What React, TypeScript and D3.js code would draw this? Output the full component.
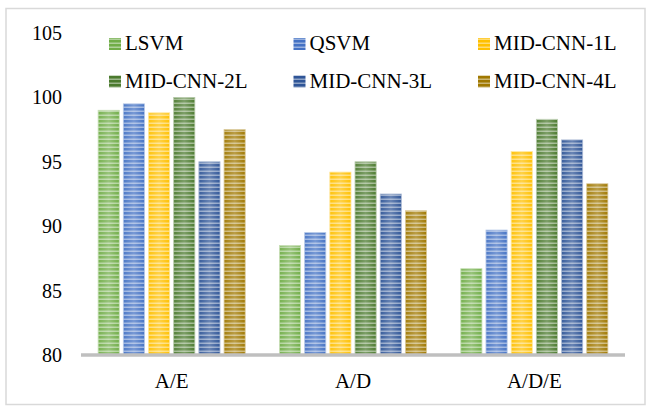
import React from "react";
import * as d3 from "d3";

const categories = ["A/E", "A/D", "A/D/E"];
const seriesNames = ["LSVM", "QSVM", "MID-CNN-1L", "MID-CNN-2L", "MID-CNN-3L", "MID-CNN-4L"];
const seriesColors = ["#70AD47", "#4472C4", "#FFC000", "#4B7A2E", "#2F5597", "#A07800"];
const lsvm = [99.0, 88.5, 86.7];
const qsvm = [99.5, 89.5, 89.7];
const mid1 = [98.8, 94.2, 95.8];
const mid2 = [100.0, 95.0, 98.3];
const mid3 = [95.0, 92.5, 96.7];
const mid4 = [97.5, 91.2, 93.3];
const seriesValues = [lsvm, qsvm, mid1, mid2, mid3, mid4];
const yTicks = [80, 85, 90, 95, 100, 105];

const W = 647;
const H = 407;
const FONT = '"Liberation Serif", "Times New Roman", Times, serif';

export default function App() {
  const x0 = d3.scaleBand<string>().domain(categories).range([81, 625]).padding(0);
  const x1 = d3
    .scaleBand<string>()
    .domain(seriesNames)
    .range([0, x0.bandwidth()])
    .paddingInner(0.16)
    .paddingOuter(0.68);
  const y = d3.scaleLinear().domain([80, 105]).range([355, 33]);

  const light = (c: string, k: number) => d3.interpolateRgb(c, "#ffffff")(k);
  const textStyle = { fontFamily: FONT, fontWeight: 400 } as React.CSSProperties;

  return (
    <svg
      width={W}
      height={H}
      style={{ position: "absolute", left: 0, top: 0, background: "#fff" }}
    >
      <defs>
        {seriesColors.map((c, i) => (
          <pattern
            key={i}
            id={`stripe-${i}`}
            patternUnits="userSpaceOnUse"
            width={8}
            height={4}
          >
            <rect width={8} height={4} fill={c} />
            <rect y={2.5} width={8} height={1.5} fill={light(c, 0.45)} />
          </pattern>
        ))}
        <linearGradient id="shine" x1="0" x2="1" y1="0" y2="0">
          <stop offset="0" stopColor="#fff" stopOpacity={0.05} />
          <stop offset="0.5" stopColor="#fff" stopOpacity={0.28} />
          <stop offset="1" stopColor="#fff" stopOpacity={0.02} />
        </linearGradient>
      </defs>

      <rect x={6} y={8.5} width={639} height={396} fill="#fff" stroke="#d9d9d9" strokeWidth={1.5} />

      {yTicks.map((t) => (
        <text
          key={t}
          x={62}
          y={y(t)}
          textAnchor="end"
          dominantBaseline="central"
          fontSize={20}
          fill="#000"
          style={textStyle}
        >
          {t}
        </text>
      ))}

      {categories.map((cat, ci) => (
        <g key={cat} transform={`translate(${x0(cat)},0)`}>
          {seriesNames.map((s, si) => {
            const v = seriesValues[si][ci];
            const bx = x1(s) as number;
            const by = y(v);
            const bh = y(80) - by;
            return (
              <g key={s}>
                <rect
                  x={bx}
                  y={by}
                  width={x1.bandwidth()}
                  height={bh}
                  fill={`url(#stripe-${si})`}
                  stroke={light(seriesColors[si], 0.6)}
                  strokeWidth={0.8}
                />
                <rect x={bx} y={by} width={x1.bandwidth()} height={bh} fill="url(#shine)" />
              </g>
            );
          })}
        </g>
      ))}

      <line x1={81} x2={625} y1={y(80)} y2={y(80)} stroke="#bfbfbf" strokeWidth={3.5} />

      {categories.map((cat) => (
        <text
          key={cat}
          x={(x0(cat) as number) + x0.bandwidth() / 2}
          y={388}
          textAnchor="middle"
          fontSize={21}
          fill="#000"
          style={textStyle}
        >
          {cat}
        </text>
      ))}

      {seriesNames.map((s, i) => {
        const col = i % 3;
        const row = Math.floor(i / 3);
        const lx = 109 + col * 184.5;
        const ly = 50 + row * 37.5;
        return (
          <g key={s}>
            <rect x={lx} y={ly - 12} width={12} height={12} fill={`url(#stripe-${i})`} />
            <text x={lx + 16} y={ly} fontSize={21} fill="#000" style={textStyle}>
              {s}
            </text>
          </g>
        );
      })}
    </svg>
  );
}
